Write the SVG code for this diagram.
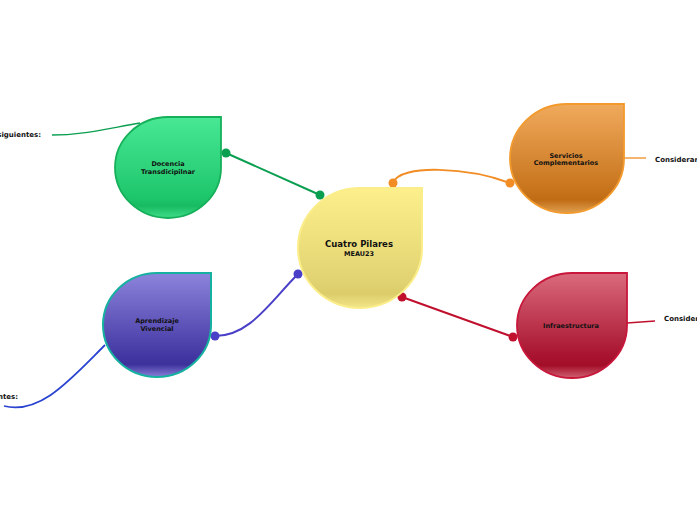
<svg xmlns="http://www.w3.org/2000/svg" width="697" height="520" viewBox="0 0 697 520">
<defs>
<style>
.t{font-family:"DejaVu Sans",Verdana,sans-serif;font-weight:bold;fill:#111;text-anchor:middle}
.s{font-size:6.5px}
.l{font-family:"DejaVu Sans",Verdana,sans-serif;font-weight:bold;font-size:7px;fill:#111}
.c{fill:none;stroke-width:2}
</style>
<linearGradient id="gy" x1="0" y1="0" x2="0" y2="1"><stop offset="0" stop-color="#fdf08c"/><stop offset="0.8" stop-color="#e0d270"/><stop offset="0.88" stop-color="#dccd6a"/><stop offset="1" stop-color="#f3e68a"/></linearGradient>
<linearGradient id="gg" x1="0" y1="0" x2="0" y2="1"><stop offset="0" stop-color="#48e895"/><stop offset="0.8" stop-color="#1ec66b"/><stop offset="0.88" stop-color="#18bb62"/><stop offset="1" stop-color="#3fdc88"/></linearGradient>
<linearGradient id="go" x1="0" y1="0" x2="0" y2="1"><stop offset="0" stop-color="#f0aa5c"/><stop offset="0.8" stop-color="#c7731b"/><stop offset="0.88" stop-color="#c06c15"/><stop offset="1" stop-color="#e0a050"/></linearGradient>
<linearGradient id="gr" x1="0" y1="0" x2="0" y2="1"><stop offset="0" stop-color="#da6a7c"/><stop offset="0.8" stop-color="#a8122e"/><stop offset="0.88" stop-color="#a30e29"/><stop offset="1" stop-color="#d06070"/></linearGradient>
<linearGradient id="gp" x1="0" y1="0" x2="0" y2="1"><stop offset="0" stop-color="#8c84dc"/><stop offset="0.8" stop-color="#4236a2"/><stop offset="0.88" stop-color="#3d329c"/><stop offset="1" stop-color="#8a80d8"/></linearGradient>
</defs>
<g id="connectors">
<path class="c" d="M226,153 L320,195" stroke="#0a9e50"/>
<circle cx="226" cy="153" r="4.5" fill="#0a9e50"/><circle cx="320" cy="195" r="4.5" fill="#0a9e50"/>
<path class="c" d="M393,183 C400,163 470,168 510,183" stroke="#f28c24"/>
<circle cx="393" cy="183" r="4.5" fill="#f28c24"/><circle cx="510" cy="183" r="4.5" fill="#f28c24"/>
<path class="c" d="M298,274 C270,302 250,336 215,336" stroke="#4a40c8"/>
<circle cx="298" cy="274" r="4.5" fill="#4a40c8"/><circle cx="215" cy="336" r="4.5" fill="#4a40c8"/>
<path class="c" d="M402,297 L513,337" stroke="#c0102e"/>
<circle cx="402" cy="297" r="4.5" fill="#c0102e"/><circle cx="513" cy="337" r="4.5" fill="#c0102e"/>
<path d="M140,123 C100,130 80,135 52,135" fill="none" stroke="#0a9e50" stroke-width="1.3"/>
<path d="M624,158 L646,158" fill="none" stroke="#f28c24" stroke-width="1.3"/>
<path d="M627,323 L655,321" fill="none" stroke="#c0102e" stroke-width="1.3"/>
<path d="M105,345 C70,380 40,415 4,406" fill="none" stroke="#2a44d0" stroke-width="1.8"/>
</g>
<g id="center">
<path d="M358,188 H422 V247.5 A62 60 0 1 1 358,188 Z" fill="url(#gy)" stroke="#fbee8a" stroke-width="2"/>
<text class="t" x="359" y="247" font-size="8.5">Cuatro Pilares</text>
<text class="t s" x="359" y="256">MEAU23</text>
</g>
<g id="docencia">
<path d="M168,117 H221 V167.5 A53 50.5 0 1 1 168,117 Z" fill="url(#gg)" stroke="#16b05a" stroke-width="1.8"/>
<text class="t s" x="168" y="166">Docencia</text>
<text class="t s" x="168" y="174">Transdicipilnar</text>
<text class="l" x="41" y="137" text-anchor="end">siguientes:</text>
</g>
<g id="servicios">
<path d="M567,104 H624 V158.5 A57 54.5 0 1 1 567,104 Z" fill="url(#go)" stroke="#f39a2d" stroke-width="1.8"/>
<text class="t s" x="566" y="158">Servicios</text>
<text class="t s" x="566" y="165">Complementarios</text>
<text class="l" x="655" y="162">Considerar</text>
</g>
<g id="infraestructura">
<path d="M572,273 H627 V325.5 A55 52.5 0 1 1 572,273 Z" fill="url(#gr)" stroke="#c8173a" stroke-width="1.8"/>
<text class="t s" x="571" y="328">Infraestructura</text>
<text class="l" x="664" y="321">Considerar</text>
</g>
<g id="aprendizaje">
<path d="M157,273 H211 V325 A54 52 0 1 1 157,273 Z" fill="url(#gp)" stroke="#16b0a0" stroke-width="2"/>
<text class="t s" x="157" y="323">Aprendizaje</text>
<text class="t s" x="157" y="331">Vivencial</text>
<text class="l" x="18" y="399" text-anchor="end">ntes:</text>
</g>
</svg>
